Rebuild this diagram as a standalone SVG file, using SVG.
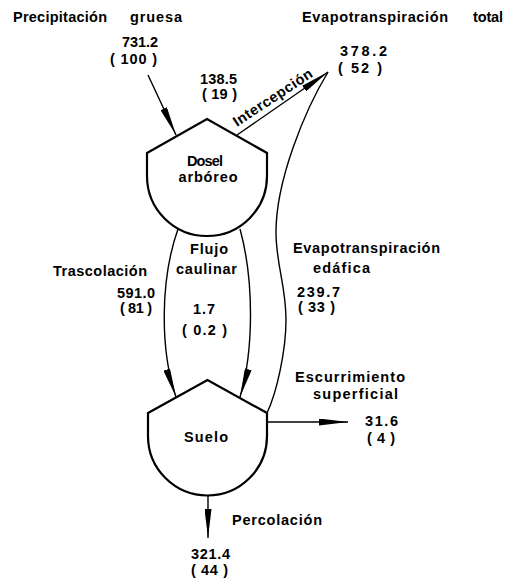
<svg xmlns="http://www.w3.org/2000/svg" width="512" height="578" viewBox="0 0 512 578">
<style>
.node{fill:#fff;stroke:#000;stroke-width:2.2;stroke-linejoin:miter}
.conn{fill:none;stroke:#000;stroke-width:1.4}
text{font-family:"Liberation Sans",Arial,Helvetica,sans-serif;font-size:14.5px;font-weight:bold;fill:#000}
.c{text-anchor:middle}
</style>
<defs>
<marker id="wedge" markerUnits="userSpaceOnUse" markerWidth="30" markerHeight="7" viewBox="0 0 30 7" refX="29" refY="3.5" orient="auto">
<path d="M0,0 L29,3.5 L0,7 Z" fill="#000"/>
</marker>
</defs>
<rect width="512" height="578" fill="#fff"/>
<g id="connectors">
<path class="conn" d="M148,75 L176,135" marker-end="url(#wedge)"/>
<path class="conn" d="M237,135 L328,72" marker-end="url(#wedge)"/>
<path class="conn" d="M178,229 C160,280 160,350 176,397" marker-end="url(#wedge)"/>
<path class="conn" d="M240,229 C254,280 254,350 240,397" marker-end="url(#wedge)"/>
<path class="conn" d="M267,413 C277,392 286,350 286,320 C286,285 276,265 276,232 C276,180 305,110 328,72"/>
<path class="conn" d="M268,422 L348,422" marker-end="url(#wedge)"/>
<path class="conn" d="M208,496 L208,538" marker-end="url(#wedge)"/>
</g>
<g id="dosel">
<path class="node" d="M147,153 L207,119 L267,153 L267,176 A60,60 0 0 1 147,176 Z"/>
<text class="c" x="205" y="166" textLength="36">Dosel</text>
<text class="c" x="208" y="182" textLength="59">arbóreo</text>
</g>
<g id="suelo">
<path class="node" d="M148,413 L207.5,380 L267,413 L267,436 A59.5,59.5 0 0 1 148,436 Z"/>
<text class="c" x="206" y="442" textLength="44">Suelo</text>
</g>
<g id="labels">
<text x="13" y="22" textLength="94">Precipitación</text>
<text x="130" y="22" textLength="52">gruesa</text>
<text x="302" y="22" textLength="146">Evapotranspiración</text>
<text x="473" y="22" textLength="30">total</text>
<text x="122" y="47" textLength="36">731.2</text>
<text x="110" y="64" textLength="47">( 100 )</text>
<text x="200" y="84" textLength="37">138.5</text>
<text x="202" y="99" textLength="35">( 19 )</text>
<text x="340" y="56" textLength="47">378.2</text>
<text x="338" y="73" textLength="44">( 52 )</text>
<text x="237" y="127" textLength="92" transform="rotate(-33.5 237 127)">Intercepción</text>
<text x="190" y="254" textLength="38">Flujo</text>
<text x="176" y="274" textLength="61">caulinar</text>
<text x="53" y="276" textLength="94">Trascolación</text>
<text x="117" y="298" textLength="38">591.0</text>
<text x="120" y="313" textLength="32">( 81 )</text>
<text x="193" y="314" textLength="22">1.7</text>
<text x="182" y="335" textLength="45">( 0.2 )</text>
<text x="293" y="253" textLength="147">Evapotranspiración</text>
<text x="313" y="273" textLength="57">edáfica</text>
<text x="297" y="297" textLength="43">239.7</text>
<text x="298" y="312" textLength="37">( 33 )</text>
<text x="295" y="382" textLength="110">Escurrimiento</text>
<text x="313" y="399" textLength="85">superficial</text>
<text x="365" y="426" textLength="33">31.6</text>
<text x="367" y="443" textLength="28">( 4 )</text>
<text x="232" y="525" textLength="90">Percolación</text>
<text x="191" y="559" textLength="39">321.4</text>
<text x="191" y="575" textLength="37">( 44 )</text>
</g>
</svg>
